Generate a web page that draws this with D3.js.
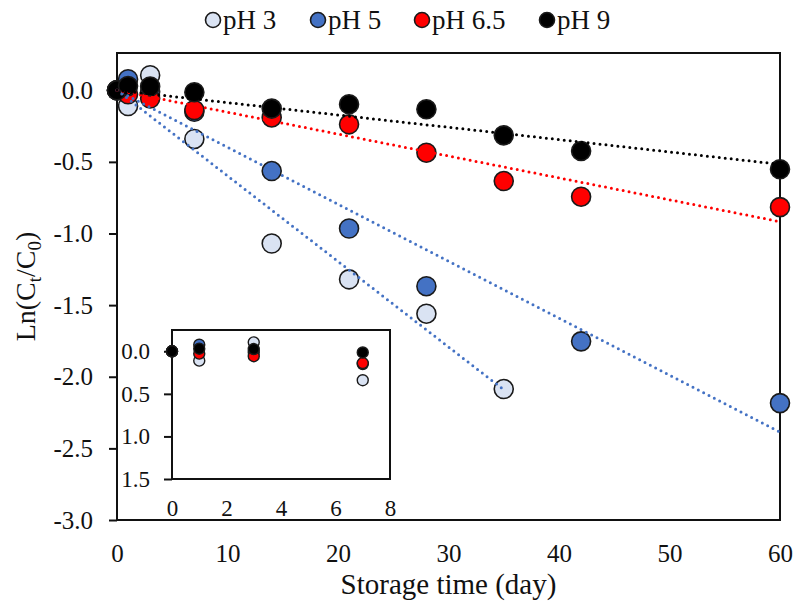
<!DOCTYPE html>
<html>
<head>
<meta charset="utf-8">
<script src="https://cdn.jsdelivr.net/npm/d3@7"></script>
<style>
  body { margin: 0; background: #fff; }
  svg text { font-family: "Liberation Serif", "Times New Roman", serif; fill: #111; }
</style>
</head>
<body>
<svg id="chart" width="794" height="610"></svg>
<script>
// Storage days and ln(Ct/C0) per pH series (null = not measured)
const days  = [0, 1, 3, 7, 14, 21, 28, 35, 42, 60];
const pH3   = [0, -0.11, 0.105, -0.34, -1.07, -1.32, -1.56, -2.086, null, null];
const pH5   = [0, 0.077, -0.01, -0.15, -0.564, -0.965, -1.368, null, -1.753, -2.184];
const pH65  = [0, -0.028, -0.058, -0.138, -0.19, -0.238, -0.436, -0.634, -0.743, -0.816];
const pH9   = [0, 0.03, 0.026, -0.014, -0.128, -0.098, -0.133, -0.315, -0.424, -0.552];

const seriesNames  = ["pH 3", "pH 5", "pH 6.5", "pH 9"];
const seriesValues = [pH3, pH5, pH65, pH9];
const fills        = ["#DAE3F3", "#4472C4", "#FF0000", "#000000"];
const trendColors  = ["#4472C4", "#4472C4", "#FF0000", "#000000"];

const yTicks      = [0, -0.5, -1, -1.5, -2, -2.5, -3];
const xTicks      = [0, 10, 20, 30, 40, 50, 60];
const insetXTicks = [0, 2, 4, 6, 8];
const insetYTicks = [0, 0.5, 1, 1.5];
const insetMaxDay = 7;

const FONT = "Liberation Serif, Times New Roman, serif";
const svg = d3.select("#chart");

// ---- main plot frame
const plot = { left: 117, right: 780, top: 53, bottom: 520 };
const x = d3.scaleLinear().domain([0, 60]).range([plot.left, plot.right]);
const y = d3.scaleLinear().domain([-3, 0.26]).range([plot.bottom, plot.top]);

const series = seriesNames.map((name, i) => ({
  name, fill: fills[i], trend: trendColors[i],
  points: days.map((d, j) => ({ d, v: seriesValues[i][j] })).filter(p => p.v !== null)
}));

// least-squares slope through the origin, for each series
series.forEach(s => {
  const sxy = d3.sum(s.points, p => p.d * p.v);
  const sxx = d3.sum(s.points, p => p.d * p.d);
  s.slope = sxy / sxx;
  s.lastDay = d3.max(s.points, p => p.d);
});

const fmt = v => v.toFixed(1);

function styleAxis(g, size) {
  g.attr("font-family", FONT).attr("font-size", size);
  g.select(".domain").remove();
  g.selectAll("line").attr("stroke", "#111").attr("stroke-width", 2);
  g.selectAll("text").attr("fill", "#111");
}

// y axis
svg.append("g")
  .attr("transform", `translate(${plot.left},0)`)
  .call(d3.axisLeft(y).tickValues(yTicks).tickSize(8).tickPadding(16).tickFormat(fmt))
  .call(styleAxis, 25);

// x axis
svg.append("g")
  .attr("transform", `translate(0,${plot.bottom})`)
  .call(d3.axisBottom(x).tickValues(xTicks).tickSize(0).tickPadding(24).tickFormat(d3.format("d")))
  .call(styleAxis, 25);

// plot border
svg.append("rect")
  .attr("x", plot.left).attr("y", plot.top)
  .attr("width", plot.right - plot.left).attr("height", plot.bottom - plot.top)
  .attr("fill", "none").attr("stroke", "#111").attr("stroke-width", 2);

// markers
series.forEach(s => {
  svg.append("g").selectAll("circle").data(s.points).join("circle")
    .attr("cx", p => x(p.d)).attr("cy", p => y(p.v)).attr("r", 9.5)
    .attr("fill", s.fill).attr("stroke", "#1a1a1a").attr("stroke-width", 1.6);
});

// dotted trend lines
series.forEach(s => {
  svg.append("line")
    .attr("x1", x(0)).attr("y1", y(0))
    .attr("x2", x(s.lastDay)).attr("y2", y(s.slope * s.lastDay))
    .attr("stroke", s.trend).attr("stroke-width", 3)
    .attr("stroke-linecap", "round").attr("stroke-dasharray", "0 6");
});

// axis titles
svg.append("text")
  .attr("x", (plot.left + plot.right) / 2).attr("y", 594)
  .attr("text-anchor", "middle").attr("font-size", 29)
  .text("Storage time (day)");

const yTitle = svg.append("text")
  .attr("transform", `translate(35,${(plot.top + plot.bottom) / 2}) rotate(-90)`)
  .attr("text-anchor", "middle").attr("font-size", 28);
yTitle.append("tspan").text("Ln(C");
yTitle.append("tspan").attr("font-size", 19).attr("dy", 6).text("t");
yTitle.append("tspan").attr("dy", -6).text("/C");
yTitle.append("tspan").attr("font-size", 19).attr("dy", 6).text("0");
yTitle.append("tspan").attr("dy", -6).text(")");

// ---- inset: first week, plotted as -ln(Ct/C0)
const inset = { left: 172, right: 390, top: 330, bottom: 479 };
const xi = d3.scaleLinear().domain([0, 8]).range([inset.left, inset.right]);
const yi = d3.scaleLinear().domain([-0.25, 1.5]).range([inset.top, inset.bottom]);

svg.append("rect")
  .attr("x", inset.left).attr("y", inset.top)
  .attr("width", inset.right - inset.left).attr("height", inset.bottom - inset.top)
  .attr("fill", "#fff").attr("stroke", "#111").attr("stroke-width", 2);

svg.append("g")
  .attr("transform", `translate(${inset.left},0)`)
  .call(d3.axisLeft(yi).tickValues(insetYTicks).tickSize(8).tickPadding(14).tickFormat(fmt))
  .call(styleAxis, 23);

svg.append("g")
  .attr("transform", `translate(0,${inset.bottom})`)
  .call(d3.axisBottom(xi).tickValues(insetXTicks).tickSize(0).tickPadding(21).tickFormat(d3.format("d")))
  .call(styleAxis, 23);

series.forEach(s => {
  svg.append("g").selectAll("circle").data(s.points.filter(p => p.d <= insetMaxDay)).join("circle")
    .attr("cx", p => xi(p.d)).attr("cy", p => yi(-p.v)).attr("r", 5.5)
    .attr("fill", s.fill).attr("stroke", "#1a1a1a").attr("stroke-width", 1.4);
});

// ---- legend
const legendX = [213, 318, 422, 547];
series.forEach((s, i) => {
  const g = svg.append("g").attr("transform", `translate(${legendX[i]},20)`);
  g.append("circle").attr("r", 7.5).attr("fill", s.fill).attr("stroke", "#1a1a1a").attr("stroke-width", 1.6);
  g.append("text").attr("x", 10).attr("y", 8.5).attr("font-size", 27).text(s.name);
});
</script>
</body>
</html>
